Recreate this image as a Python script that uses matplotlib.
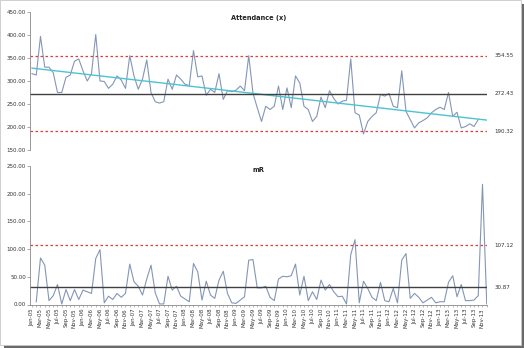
import matplotlib
matplotlib.use("Agg")
import matplotlib.pyplot as plt
import pandas as pd
from matplotlib.patches import Rectangle

# months Jan-05 .. Dec-13
meses = pd.date_range("2005-01-01", "2013-12-01", freq="MS").strftime("%b-%y").tolist()

attendance = [316, 313, 397, 330, 330, 318, 275, 275, 308, 313, 343, 348,
              322, 300, 316, 401, 300, 299, 284, 293, 311, 302, 284, 355,
              311, 282, 304, 346, 275, 255, 252, 255, 304, 282, 313, 304,
              293, 290, 366, 309, 311, 269, 282, 275, 316, 260, 279, 277,
              280, 289, 279, 355, 273, 242, 212, 245, 238, 245, 289, 238,
              285, 242, 311, 296, 245, 238, 212, 223, 265, 242, 279, 262,
              250, 256, 258, 348, 231, 226, 185, 212, 223, 231, 271, 267,
              273, 245, 242, 322, 234, 216, 198, 209, 214, 220, 231, 238,
              243, 238, 275, 223, 232, 198, 201, 207, 201, 216]

mr = [5, 84, 71, 7, 16, 36, 1, 27, 7, 27, 9, 26,
      23, 20, 83, 99, 3, 15, 9, 20, 13, 20, 73, 41,
      33, 17, 46, 71, 21, 1, 1, 51, 26, 33, 15, 10,
      5, 74, 59, 8, 42, 17, 11, 44, 60, 20, 3, 2,
      8, 14, 80, 81, 30, 30, 33, 13, 7, 46, 51, 50,
      52, 73, 17, 51, 7, 23, 9, 44, 26, 36, 23, 14,
      15, 1, 90, 117, 3, 42, 29, 13, 7, 40, 7, 5,
      29, 3, 80, 92, 11, 20, 13, 3, 8, 13, 3, 5,
      5, 40, 52, 14, 36, 7, 7, 8, 16, 217, 1]

# limites de control
x_ucl, x_cl, x_lcl = 354.55, 272.43, 190.32
mr_ucl, mr_cl = 107.12, 30.87
tendencia = [328, 215]  # inicio y fin de la linea de tendencia

n = len(meses)
xs = list(range(n))
x_att = xs[:len(attendance)]
x_mr = xs[1:1 + len(mr)]

c_serie = "#8496b6"
c_tend = "#4cc3d3"
c_cl = "#404040"
c_lim = "#e03c3c"
c_txt = "#333333"
fs = 4

fig = plt.figure(figsize=(5.24, 3.48), dpi=100)
W, H = 524, 348

# marco con sombra
fig.patches.append(Rectangle((4 / W, 0), 520 / W, 344 / H, transform=fig.transFigure,
                             facecolor="#6a6a6a", edgecolor="none", zorder=-3))
fig.patches.append(Rectangle((0, 3 / H), 521 / W, 345 / H, transform=fig.transFigure,
                             facecolor="white", edgecolor="#c8c8c8", lw=0.6, zorder=-2))

ax1 = fig.add_axes([30 / W, (H - 150) / H, 457 / W, 138 / H])
ax2 = fig.add_axes([30 / W, (H - 304.5) / H, 457 / W, 138.5 / H])

for ax in (ax1, ax2):
    ax.set_facecolor("none")
    for s in ("top", "right"):
        ax.spines[s].set_visible(False)
    ax.spines["left"].set_color("#888888")
    ax.spines["left"].set_linewidth(0.6)
    ax.set_xlim(-0.47, 107.06)
    ax.tick_params(axis="y", labelsize=fs, length=2, width=0.5, color="#888888",
                   labelcolor=c_txt, pad=1)

# grafica superior
ax1.plot(x_att, attendance, color=c_serie, lw=0.8)
ax1.plot([0, n - 1], tendencia, color=c_tend, lw=1.0)
ax1.axhline(x_cl, color=c_cl, lw=1.0)
ax1.axhline(x_ucl, color=c_lim, lw=0.9, ls=(0, (2, 2)))
ax1.axhline(x_lcl, color=c_lim, lw=0.9, ls=(0, (2, 2)))
ax1.set_ylim(150, 450)
ax1.set_yticks(range(150, 451, 50))
ax1.set_yticklabels([f"{v:.2f}" for v in range(150, 451, 50)])
ax1.spines["bottom"].set_visible(False)
ax1.set_xticks([])
ax1.text(0.5, 0.975, "Attendance (x)", transform=ax1.transAxes, ha="center", va="top",
         fontsize=4.8, fontweight="bold", color="#222222")
for v in (x_ucl, x_cl, x_lcl):
    ax1.text(108.8, v, f"{v:.2f}", fontsize=fs, va="center", ha="left", clip_on=False,
             color=c_txt)

# grafica inferior
ax2.plot(x_mr, mr, color=c_serie, lw=0.8)
ax2.axhline(mr_cl, color=c_cl, lw=1.0)
ax2.axhline(mr_ucl, color=c_lim, lw=0.9, ls=(0, (2, 2)))
ax2.set_ylim(0, 250)
ax2.set_yticks(range(0, 251, 50))
ax2.set_yticklabels([f"{v:.2f}" for v in range(0, 251, 50)])
ax2.spines["bottom"].set_color("#888888")
ax2.spines["bottom"].set_linewidth(0.6)
ax2.set_xticks(xs[::2])
ax2.set_xticklabels(meses[::2], rotation=90, fontsize=fs, color=c_txt)
ax2.set_xticks(xs, minor=True)
ax2.tick_params(axis="x", which="both", length=1.5, width=0.4, color="#888888", pad=1)
ax2.text(0.5, 0.99, "mR", transform=ax2.transAxes, ha="center", va="top",
         fontsize=4.8, fontweight="bold", color="#222222")
for v in (mr_ucl, mr_cl):
    ax2.text(108.8, v, f"{v:.2f}", fontsize=fs, va="center", ha="left", clip_on=False,
             color=c_txt)

fig.savefig("out.png", dpi=100)
